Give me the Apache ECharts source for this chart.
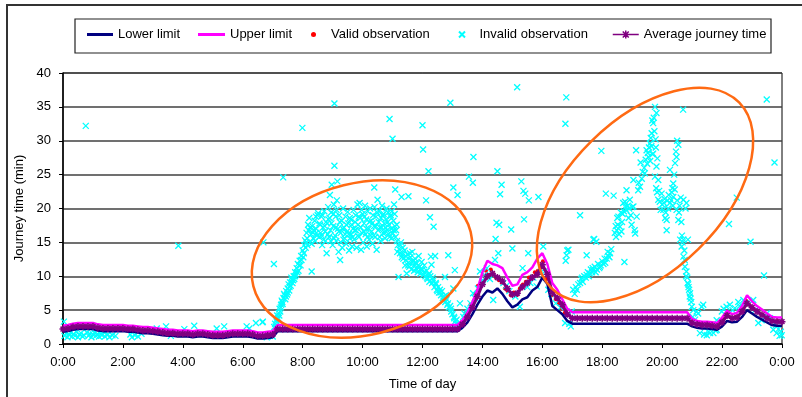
<!DOCTYPE html>
<html>
<head>
<meta charset="utf-8">
<title>Journey time</title>
<script src="https://cdn.jsdelivr.net/npm/echarts@6/dist/echarts.min.js"></script>
<style>
  html, body { margin: 0; padding: 0; background: #fff; }
  #chart { width: 802px; height: 397px; }
</style>
</head>
<body>
<div id="chart"></div>
<script>
// time slots of the limit / average lines, in minutes
const SLOT_MIN = 10;

// average journey time per 10 min slot (0:00 .. 24:00)
const avgTime = [
  2.2, 2.3, 2.5, 2.6, 2.6, 2.6,
  2.6, 2.4, 2.3, 2.3, 2.3, 2.3,
  2.3, 2.2, 2.2, 2.1, 2.0, 2.0,
  1.9, 1.8, 1.7, 1.6, 1.6, 1.5,
  1.5, 1.5, 1.4, 1.5, 1.5, 1.4,
  1.3, 1.3, 1.3, 1.4, 1.5, 1.5,
  1.5, 1.5, 1.4, 1.2, 1.2, 1.3,
  1.4, 2.2, 2.2, 2.2, 2.2, 2.2,
  2.2, 2.2, 2.2, 2.2, 2.2, 2.2,
  2.2, 2.2, 2.2, 2.2, 2.2, 2.2,
  2.2, 2.2, 2.2, 2.2, 2.2, 2.2,
  2.2, 2.2, 2.2, 2.2, 2.2, 2.2,
  2.2, 2.2, 2.2, 2.2, 2.2, 2.2,
  2.2, 2.2, 2.9, 4.0, 5.4, 7.0,
  8.8, 10.0, 10.4, 9.8, 9.3, 8.2,
  7.3, 7.5, 8.4, 9.0, 9.8, 10.3,
  11.7, 10.3, 7.6, 6.8, 5.8, 4.4,
  3.8, 3.8, 3.8, 3.8, 3.8, 3.8,
  3.8, 3.8, 3.8, 3.8, 3.8, 3.8,
  3.8, 3.8, 3.8, 3.8, 3.8, 3.8,
  3.8, 3.8, 3.8, 3.8, 3.8, 3.8,
  3.1, 2.9, 2.8, 2.8, 2.7, 2.6,
  3.2, 4.2, 3.8, 3.9, 4.8, 6.0,
  5.4, 4.8, 4.3, 3.8, 3.4, 3.3,
  3.3
];

const upperLimit = [
  2.7, 2.8, 3.0, 3.1, 3.1, 3.1,
  3.1, 2.9, 2.8, 2.8, 2.8, 2.8,
  2.8, 2.7, 2.7, 2.6, 2.5, 2.5,
  2.4, 2.3, 2.2, 2.1, 2.1, 2.0,
  2.0, 2.0, 1.9, 2.0, 2.0, 1.9,
  1.8, 1.8, 1.8, 1.9, 2.0, 2.0,
  2.0, 2.0, 1.9, 1.7, 1.7, 1.8,
  1.9, 2.8, 2.8, 2.8, 2.8, 2.8,
  2.8, 2.8, 2.8, 2.8, 2.8, 2.8,
  2.8, 2.8, 2.8, 2.8, 2.8, 2.8,
  2.8, 2.8, 2.8, 2.8, 2.8, 2.8,
  2.8, 2.8, 2.8, 2.8, 2.8, 2.8,
  2.8, 2.8, 2.8, 2.8, 2.8, 2.8,
  2.8, 2.8, 3.5, 4.6, 6.2, 8.0,
  10.6, 12.3, 11.8, 11.6, 11.2, 9.8,
  8.6, 8.8, 10.2, 10.6, 11.3, 12.6,
  13.4, 11.8, 9.0, 8.0, 6.6, 5.2,
  4.7, 4.7, 4.7, 4.7, 4.7, 4.7,
  4.7, 4.7, 4.7, 4.7, 4.7, 4.7,
  4.7, 4.7, 4.7, 4.7, 4.7, 4.7,
  4.7, 4.7, 4.7, 4.7, 4.7, 4.7,
  3.7, 3.4, 3.3, 3.3, 3.2, 3.1,
  3.9, 4.9, 4.4, 4.6, 5.6, 7.2,
  6.3, 5.6, 5.1, 4.5, 4.0, 3.9,
  3.9
];

const lowerLimit = [
  1.8, 1.9, 2.1, 2.2, 2.2, 2.2,
  2.2, 2.0, 1.9, 1.9, 1.9, 1.9,
  1.9, 1.8, 1.8, 1.7, 1.6, 1.6,
  1.5, 1.4, 1.3, 1.2, 1.2, 1.1,
  1.1, 1.1, 1.0, 1.1, 1.1, 1.0,
  0.9, 0.9, 0.9, 1.0, 1.1, 1.1,
  1.1, 1.1, 1.0, 0.8, 0.8, 0.9,
  1.0, 1.9, 1.9, 1.9, 1.9, 1.9,
  1.9, 1.9, 1.9, 1.9, 1.9, 1.9,
  1.9, 1.9, 1.9, 1.9, 1.9, 1.9,
  1.9, 1.9, 1.9, 1.9, 1.9, 1.9,
  1.9, 1.9, 1.9, 1.9, 1.9, 1.9,
  1.9, 1.9, 1.9, 1.9, 1.9, 1.9,
  1.9, 1.9, 2.4, 3.2, 4.4, 5.8,
  7.0, 7.9, 7.6, 8.2, 7.4, 6.3,
  5.4, 5.8, 6.6, 6.9, 7.9, 8.4,
  9.8, 8.9, 5.6, 5.0, 4.4, 3.4,
  3.0, 3.0, 3.0, 3.0, 3.0, 3.0,
  3.0, 3.0, 3.0, 3.0, 3.0, 3.0,
  3.0, 3.0, 3.0, 3.0, 3.0, 3.0,
  3.0, 3.0, 3.0, 3.0, 3.0, 3.0,
  2.6, 2.4, 2.3, 2.3, 2.2, 2.1,
  2.6, 3.4, 3.2, 3.3, 4.0, 5.0,
  4.5, 4.0, 3.6, 3.2, 2.8, 2.7,
  2.7
];

// [hour of day, journey time]
const validObs = [
  [13.3,3.2],[13.45,4.6],[13.6,5.8],[13.75,7.4],[13.85,8.6],[13.95,9.2],[14.05,10.0],[14.12,10.8],
  [14.2,10.2],[14.28,11.0],[14.35,10.4],[14.45,9.8],[14.55,9.4],[14.65,9.0],[14.75,8.2],[14.85,7.8],
  [14.95,7.2],[15.05,7.6],[15.15,7.2],[15.25,8.2],[15.35,8.8],[15.45,9.2],[15.55,9.8],[15.65,10.0],
  [15.75,10.6],[15.85,10.8],[15.95,11.6],[16.02,12.2],[16.08,11.0],[16.15,9.6],[16.25,7.8],[16.35,7.2],
  [16.45,6.6],[16.55,6.0],[16.65,5.2],[16.75,4.6],
  [21.0,3.4],[21.25,3.0],[21.6,2.8],[21.9,3.1],[22.05,3.8],[22.15,4.4],[22.45,4.0],[22.7,5.2],
  [22.8,6.4],[22.9,5.8],[23.1,5.0],[23.3,4.4],[23.55,3.8],[23.85,3.4]
];

const invalidNight = [
  [0.03,3.3],[0.05,1.2],[0.1,1.6],[0.15,1.0],[0.2,1.4],[0.25,1.7],[0.3,1.1],[0.35,1.5],[0.4,1.2],
  [0.45,1.8],[0.5,1.0],[0.55,1.4],[0.6,1.6],[0.65,1.1],[0.7,1.3],[0.76,32.2],[0.8,1.7],[0.85,1.2],
  [0.9,1.5],[0.95,1.0],[1.0,1.4],[1.05,1.7],[1.1,1.2],[1.15,1.5],[1.2,1.1],[1.25,1.6],[1.3,1.3],
  [1.35,1.8],[1.4,1.1],[1.5,1.4],[1.55,1.0],[1.65,1.3],[1.75,1.2],[2.25,1.4],[2.3,1.0],[2.4,1.3],
  [2.5,1.1],[2.62,1.5],[3.13,2.3],[3.44,2.6],[3.6,1.2],[3.85,14.5],[4.05,2.2],[4.38,2.7],[5.13,2.3],
  [5.38,2.6],[6.13,2.6],[6.22,2.3],[6.44,3.1],[6.66,3.2],[6.69,15.0],[6.67,3.3],[6.8,1.0],[6.9,1.2],
  [7.0,1.1]
];

const invalidMorning = [
  [7.04,11.8],[7.05,2.5],[7.08,3.0],[7.1,2.6],[7.12,3.5],[7.15,4.2],[7.18,3.8],[7.2,4.6],[7.23,5.2],
  [7.25,4.8],[7.28,5.8],[7.3,6.4],[7.33,5.9],[7.35,24.6],[7.36,6.8],[7.4,7.2],[7.42,6.6],[7.45,7.8],
  [7.48,7.3],[7.5,8.2],[7.53,8.8],[7.55,7.9],[7.58,9.1],[7.6,8.6],[7.63,9.5],[7.66,9.0],[7.7,10.0],
  [7.72,9.6],[7.75,10.6],[7.78,10.2],[7.8,11.2],[7.84,11.8],[7.86,10.8],[7.9,12.3],[7.93,11.6],
  [7.95,13.0],[7.99,31.9],[8.0,13.8],[8.02,12.8],[8.05,14.6],[8.08,15.3],[8.1,14.2],[8.13,16.4],
  [8.15,15.6],[8.18,17.6],[8.2,16.8],[8.22,18.6],[8.25,15.0],[8.3,10.7],
  [7.14,3.2],[7.22,4.2],[7.27,5.4],[7.32,6.2],[7.38,7.4],[7.44,7.0],[7.5,7.6],[7.56,8.4],[7.62,9.8],
  [7.68,9.4],[7.74,10.0],[7.82,10.6],[7.88,11.6],[7.96,12.4],[8.04,13.4],[8.12,15.0],[8.16,14.6],[8.24,17.2],
  [8.28,16.2],[8.3,14.8],[8.32,17.4],[8.35,15.6],[8.38,16.8],[8.4,18.2],[8.42,15.2],[8.45,17.0],
  [8.48,16.0],[8.5,19.0],[8.52,19.3],[8.55,15.8],[8.58,17.6],[8.6,16.4],[8.62,18.8],[8.65,14.6],
  [8.68,17.2],[8.7,15.4],[8.72,19.6],[8.75,16.6],[8.78,18.0],[8.8,13.4],[8.82,17.8],[8.85,20.2],
  [8.88,15.8],[8.9,18.6],[8.91,22.0],[8.93,16.8],[8.95,19.4],[8.97,23.5],[9.0,14.6],[9.02,17.4],
  [9.04,20.6],[9.06,35.5],[9.06,26.3],[9.08,16.0],[9.1,18.8],[9.12,15.2],[9.14,21.2],[9.16,24.0],
  [9.18,17.0],[9.2,13.6],[9.22,19.0],[9.25,12.4],[9.27,16.4],[9.3,18.2],[9.32,14.2],[9.35,20.0],
  [9.38,17.2],[9.4,15.6],[9.43,18.8],[9.45,14.8],[9.48,16.6],[9.5,19.5],[9.52,17.8],[9.55,13.8],
  [9.58,15.6],[9.6,18.4],[9.62,16.2],[9.65,14.4],[9.68,17.0],[9.7,19.8],[9.72,15.4],[9.75,18.0],
  [9.78,16.8],[9.8,14.2],[9.83,20.6],[9.85,17.6],[9.88,15.8],[9.9,20.8],[9.92,18.6],[9.95,13.9],
  [9.98,16.4],[10.0,19.2],[10.02,15.0],[10.05,17.8],[10.08,20.4],[10.1,16.2],[10.12,18.4],[10.14,14.4],
  [10.17,19.6],[10.2,17.0],[10.22,15.4],[10.25,20.0],[10.28,18.2],[10.3,16.6],[10.33,14.8],[10.35,19.0],
  [10.38,17.4],[10.39,23.1],[10.4,20.2],[10.42,15.8],[10.45,18.8],[10.47,13.9],[10.5,21.3],[10.52,16.8],
  [10.55,19.6],[10.58,17.2],[10.6,15.2],[10.62,18.6],[10.65,20.4],[10.68,16.4],[10.7,19.2],[10.72,17.8],
  [10.75,15.6],[10.78,18.4],[10.8,20.0],[10.82,16.8],[10.85,19.4],[10.88,17.6],[10.9,33.2],[10.9,15.8],
  [10.92,18.8],[10.95,17.0],[10.98,19.6],[11.0,30.3],[11.0,16.4],[11.03,18.2],[11.05,20.6],[11.08,17.4],
  [11.09,22.8],[11.1,15.8],[11.12,16.8],[11.15,15.2],[11.18,14.6],
  [8.34,16.4],[8.44,18.8],[8.46,16.4],[8.56,17.8],[8.64,16.0],[8.66,19.0],[8.74,17.4],[8.76,15.2],
  [8.84,16.2],[8.86,18.4],[8.94,15.2],[8.96,17.8],[9.03,19.2],[9.05,15.6],[9.11,17.2],[9.13,19.8],
  [9.21,16.6],[9.24,18.0],[9.28,15.0],[9.34,17.0],[9.36,15.4],[9.42,16.2],[9.46,17.6],[9.54,16.2],
  [9.57,18.6],[9.64,17.6],[9.67,15.8],[9.74,16.8],[9.77,19.0],[9.84,16.0],[9.87,18.8],[9.94,17.2],
  [9.97,19.8],[10.04,16.6],[10.07,18.8],[10.13,17.0],[10.16,15.8],[10.23,18.0],[10.27,16.0],[10.32,17.8],
  [10.37,16.0],[10.44,17.4],[10.49,19.4],[10.54,18.0],[10.57,15.8],[10.64,17.2],[10.67,19.0],[10.74,16.4],
  [10.77,17.2],[10.84,18.0],[10.87,16.2],[10.94,19.0],[10.97,15.6],[11.04,16.8],[11.07,19.2],[11.14,17.6],
  [11.16,13.6]
];

const invalidMidday = [
  [11.2,9.9],[11.22,14.0],[11.25,13.4],[11.28,15.0],[11.3,21.7],[11.31,12.8],[11.34,14.2],[11.36,12.6],
  [11.4,13.8],[11.42,11.6],[11.45,12.4],[11.47,10.4],[11.5,13.2],[11.53,21.8],[11.53,12.0],[11.56,11.4],
  [11.6,12.8],[11.63,11.0],[11.66,13.6],[11.69,12.2],[11.72,10.8],[11.75,12.6],[11.78,11.2],[11.81,11.9],
  [11.84,10.6],[11.87,13.0],[11.9,11.4],[11.93,10.4],[11.97,12.1],[12.0,32.3],[12.0,11.0],[12.02,28.7],
  [12.03,10.2],[12.06,11.6],[12.1,10.0],[12.12,21.2],[12.14,10.8],[12.17,9.6],[12.2,25.5],[12.2,10.2],
  [12.23,9.2],[12.25,18.7],[12.26,10.0],[12.28,12.9],[12.3,11.7],[12.32,9.0],[12.36,9.4],[12.37,17.3],
  [12.4,8.4],[12.42,13.0],[12.45,8.8],[12.48,8.0],[12.52,8.4],[12.55,7.6],[12.58,8.0],[12.62,7.2],
  [12.65,7.8],[12.68,6.8],[12.72,7.0],[12.75,9.9],[12.76,6.2],[12.8,6.6],[12.83,5.8],[12.86,13.1],
  [12.88,5.4],[12.92,5.6],[12.93,35.6],[12.96,4.8],[13.0,4.4],[13.03,8.2],[13.03,23.1],[13.05,4.0],
  [13.08,10.9],[13.1,3.4],[13.14,3.6],[13.17,22.0],[13.2,2.8],[13.23,2.6],[13.25,6.0],[13.28,3.0],
  [13.36,4.0],
  [11.26,14.6],[11.33,13.2],[11.44,13.0],[11.52,11.6],[11.58,13.4],[11.64,12.2],[11.71,11.6],[11.77,12.0],
  [11.86,11.2],[11.95,11.0],[12.05,10.6],[12.15,9.8],[12.22,10.4],[12.34,9.8],[12.44,9.0],[12.5,7.8],
  [12.6,7.6],[12.7,6.4],[12.78,7.2],[12.85,6.0],[12.95,5.2],[13.06,3.8],[13.12,3.0],
  [13.4,4.5],[13.5,5.2],[13.55,24.7],[13.6,6.0],[13.68,23.8],[13.69,7.5],[13.7,27.6],[13.75,6.8],
  [13.85,8.2],[13.92,10.7],[14.0,9.4],[14.08,10.2],[14.15,11.2],[14.25,9.6],[14.36,6.5],[14.42,12.4],
  [14.44,15.5],[14.47,17.9],[14.5,25.5],[14.53,13.4],[14.56,17.6],[14.59,22.1],[14.64,23.5],[14.7,9.0],
  [14.8,8.6],[14.9,7.8],[14.96,16.9],[15.0,14.1],[15.1,7.0],[15.16,37.9],[15.25,5.5],[15.3,24.0],
  [15.34,11.2],[15.37,22.6],[15.39,18.4],[15.43,22.2],[15.5,8.4],[15.53,13.4],[15.55,21.2],[15.6,9.0],
  [15.7,9.8],[15.81,8.5],[15.87,21.7],[15.95,10.6],[16.03,14.4],[16.1,10.8],[16.2,8.0],[16.3,7.4],
  [16.45,6.0],[16.6,5.4],[16.76,3.1],[16.77,32.5],[16.78,12.3],[16.8,36.4],[16.81,13.1],[16.83,13.8],
  [16.87,13.9],[16.9,3.0],[16.98,4.8],[16.95,2.6]
];

const invalidEvening = [
  [17.03,8.0],[17.08,7.4],[17.12,8.4],[17.2,8.8],[17.26,9.0],[17.26,19.0],[17.3,9.6],[17.35,9.2],
  [17.4,10.0],[17.45,9.8],[17.48,10.2],[17.48,13.1],[17.52,10.6],[17.58,10.4],[17.62,11.0],[17.66,10.6],
  [17.7,10.9],[17.7,15.4],[17.73,15.5],[17.75,11.4],[17.8,15.1],[17.82,11.0],[17.86,11.8],[17.9,11.2],
  [17.92,11.4],[17.97,28.5],[18.0,12.2],[18.04,11.8],[18.08,12.6],[18.12,22.2],[18.15,12.6],[18.2,13.0],
  [18.26,13.4],[18.3,14.0],[18.38,21.9],[18.42,16.4],[18.45,17.4],[18.48,16.8],[18.5,18.6],[18.54,18.8],
  [18.56,16.2],[18.59,17.3],[18.62,19.4],[18.66,18.0],[18.7,20.8],[18.72,19.6],[18.74,12.1],[18.76,21.0],
  [18.8,19.8],[18.81,22.7],[18.85,20.4],[18.88,18.6],[18.92,21.3],[18.95,19.0],[18.98,17.6],[19.0,20.2],
  [19.04,24.2],[19.04,20.3],[19.08,16.8],[19.1,16.3],[19.13,28.6],[19.15,18.8],[19.2,22.7],[19.22,23.8],
  [19.26,23.2],[19.28,26.8],[19.32,24.4],[19.35,25.4],[19.4,26.0],[19.45,27.2],[19.48,28.6],[19.5,26.6],
  [19.54,27.6],[19.56,29.0],[19.59,29.6],[19.62,30.4],[19.65,31.1],[19.68,28.0],[19.7,32.6],[19.7,28.1],
  [19.72,33.4],[19.76,35.0],[19.76,24.7],[19.78,30.2],[19.8,23.0],[19.81,34.1],[19.81,26.2],[19.84,27.4],
  [19.87,24.2],[19.87,21.3],[19.9,22.6],[19.95,19.8],[19.98,22.2],[20.0,20.6],[20.04,19.8],[20.08,21.4],
  [20.1,18.6],[20.15,18.3],[20.15,16.8],[20.2,20.0],[20.22,22.0],[20.26,20.8],[20.26,25.7],[20.3,21.2],
  [20.34,23.0],[20.37,21.7],[20.37,23.7],[20.4,25.0],[20.43,26.7],[20.46,28.4],[20.48,27.6],[20.48,19.8],
  [20.5,30.0],[20.54,29.4],[20.54,18.3],[20.58,20.4],[20.6,15.4],[20.62,21.6],[20.65,14.4],[20.66,16.0],
  [20.7,34.6],[20.71,21.3],[20.71,15.4],[20.71,12.9],[20.74,13.8],[20.76,11.4],[20.78,20.0],[20.81,10.7],
  [20.81,20.8],[20.84,9.8],[20.85,9.0],[20.86,15.4],[20.88,8.4],[20.9,8.0],[20.93,7.5],[20.95,6.7],
  [20.97,6.2],[20.99,5.5],[21.02,4.0],[21.04,5.0],[21.1,3.6],[21.15,4.8],[21.2,4.5],[21.26,1.6],
  [21.32,5.5],[21.37,5.8],[21.4,1.4],[21.49,1.3],[21.55,1.8],[21.6,1.6],[21.71,1.6],[21.78,2.0],
  [21.82,2.1],[21.82,3.5],[21.99,4.8],[22.05,5.2],[22.15,5.5],[22.23,17.7],[22.26,5.8],[22.35,5.0],
  [22.43,5.3],[22.49,21.6],[22.54,6.2],[22.59,5.6],[22.71,6.5],[22.8,6.0],[22.95,15.1],[23.04,6.5],
  [23.1,5.0],[23.21,3.1],[23.32,3.5],[23.4,10.1],[23.49,4.5],[23.49,36.1],[23.6,3.8],[23.71,2.1],
  [23.75,26.8],[23.8,2.8],[23.82,1.6],[23.88,2.2],[23.92,1.2],[23.96,1.8],[23.99,1.3],
  [17.15,8.0],[17.33,9.8],[17.55,10.0],[17.68,11.2],[17.78,10.6],[17.95,11.6],[18.1,12.0],[18.18,13.6],
  [18.24,12.8],[18.46,15.8],[18.52,17.6],[18.64,16.6],[18.68,19.2],[18.78,20.2],[18.9,20.0],[19.42,25.2],
  [19.52,28.2],[19.6,27.0],[19.64,29.2],[19.67,33.0],[19.74,31.4],[19.79,29.0],[19.83,22.4],[19.92,21.0],
  [20.06,20.8],[20.12,19.4],[20.18,21.2],[20.32,22.4],[20.36,20.4],[20.42,22.8],[20.5,21.2],[20.56,19.4],
  [20.64,18.0],[20.68,15.0],[20.75,12.4],[20.8,10.0],[20.87,8.8],[20.92,7.0]
];

const xTicks = { min: 0, max: 24, step: 2 };
const yTicks = { min: 0, max: 40, step: 5 };

const FONT = "'Liberation Sans', Arial, sans-serif";
const CROSS = 'path://M0,0L10,10M10,0L0,10';
const STAR = 'path://M5,0L5,10M0,5L10,5M1.5,1.5L8.5,8.5M8.5,1.5L1.5,8.5';
// legend icon: line with a small asterisk in the middle
const STAR_LINE = 'path://M0,4L26,4M13,0L13,8M9,4L17,4M10,1L16,7M16,1L10,7';

function slots(values) {
  return values.map((v, i) => [i * SLOT_MIN / 60, v]);
}

function legendAt(item, left, itemWidth, itemHeight) {
  return {
    data: [item], left: left, top: 28, padding: 0,
    itemWidth: itemWidth, itemHeight: itemHeight,
    textStyle: { fontFamily: FONT, fontSize: 13, color: '#000' }
  };
}

const avgLegend = legendAt({
  name: 'Average journey time', icon: STAR_LINE,
  itemStyle: { color: '#800080', borderColor: '#800080', borderWidth: 1.5 }
}, 612, 26, 8);

const chart = echarts.init(document.getElementById('chart'));

chart.setOption({
  animation: false,
  textStyle: { fontFamily: FONT },
  grid: { left: 63, right: 20, top: 73, bottom: 53, show: true, borderColor: '#000', borderWidth: 1 },
  legend: [
    legendAt({ name: 'Lower limit', icon: 'rect' }, 87, 26, 3),
    legendAt({ name: 'Upper limit', icon: 'rect' }, 198, 27, 3),
    legendAt('Valid observation', 311, 25, 5),
    legendAt('Invalid observation', 458, 25, 6),
    avgLegend
  ],
  xAxis: {
    type: 'value', min: xTicks.min, max: xTicks.max, interval: xTicks.step,
    name: 'Time of day', nameLocation: 'middle', nameGap: 34,
    nameTextStyle: { fontSize: 13, color: '#000' },
    axisLine: { lineStyle: { color: '#000', width: 1.5 } },
    axisTick: { length: 4, lineStyle: { color: '#000' } },
    axisLabel: { fontSize: 13, color: '#000', margin: 12, formatter: v => (v % 24) + ':00' },
    splitLine: { show: false }
  },
  yAxis: {
    type: 'value', min: yTicks.min, max: yTicks.max, interval: yTicks.step,
    name: 'Journey time (min)', nameLocation: 'middle', nameGap: 37,
    nameTextStyle: { fontSize: 13, color: '#000' },
    axisLine: { show: true, lineStyle: { color: '#000', width: 1.5 } },
    axisTick: { show: true, length: 4, lineStyle: { color: '#000' } },
    axisLabel: { fontSize: 13, color: '#000', margin: 12 },
    splitLine: { lineStyle: { color: '#404040', width: 1.6 } }
  },
  series: [
    {
      name: 'Lower limit', type: 'line', data: slots(lowerLimit),
      symbol: 'none', lineStyle: { color: '#000080', width: 2.5 }, itemStyle: { color: '#000080' }
    },
    {
      name: 'Upper limit', type: 'line', data: slots(upperLimit),
      symbol: 'none', lineStyle: { color: '#ff00ff', width: 2.5 }, itemStyle: { color: '#ff00ff' }
    },
    {
      name: 'Valid observation', type: 'scatter', data: validObs,
      symbol: 'circle', symbolSize: 4, itemStyle: { color: '#ff0000', opacity: 1 }
    },
    {
      name: 'Invalid observation', type: 'scatter',
      data: invalidNight.concat(invalidMorning, invalidMidday, invalidEvening),
      symbol: CROSS, symbolSize: 6, symbolKeepAspect: true,
      itemStyle: { color: '#00ffff', borderColor: '#00ffff', borderWidth: 1.3, opacity: 1 }
    },
    {
      name: 'Average journey time', type: 'line', data: slots(avgTime),
      symbol: STAR, symbolSize: 7, showSymbol: true,
      lineStyle: { color: '#800080', width: 3 },
      itemStyle: { color: '#800080', borderColor: '#800080', borderWidth: 1.5 }
    }
  ],
  graphic: [
    { type: 'rect', shape: { x: 7, y: 5, width: 820, height: 420 }, style: { fill: 'none', stroke: '#333', lineWidth: 2 }, silent: true },
    { type: 'rect', shape: { x: 75, y: 19, width: 696, height: 34 }, style: { fill: 'none', stroke: '#222', lineWidth: 1.2 }, silent: true },
    // highlighted areas
    { type: 'ellipse', x: 362, y: 259, rotation: 0.245, shape: { cx: 0, cy: 0, rx: 112, ry: 76 },
      style: { fill: 'none', stroke: '#ff6a13', lineWidth: 2.5 }, z: 100, silent: true },
    { type: 'ellipse', x: 645, y: 195, rotation: 0.777, shape: { cx: 0, cy: 0, rx: 132, ry: 76 },
      style: { fill: 'none', stroke: '#ff6a13', lineWidth: 2.5 }, z: 100, silent: true }
  ]
});
</script>
</body>
</html>
